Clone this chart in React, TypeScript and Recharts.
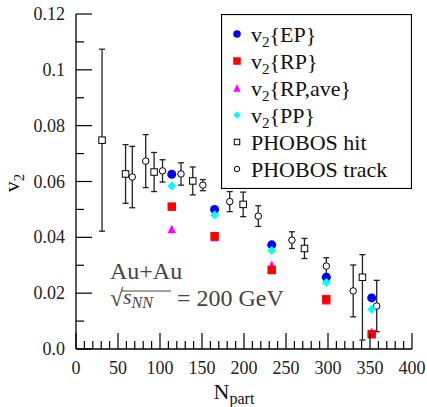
import React from "react";
import { ScatterChart, Scatter, XAxis, YAxis, ErrorBar, Legend } from "recharts";

// page has an 8px default margin; drop it so the 427x407 chart fills the window
if (typeof document !== "undefined") {
  document.body.style.margin = "0";
  document.body.style.overflow = "hidden";
}

const SERIF = '"Liberation Serif", "DejaVu Serif", serif';

// axis ticks (minor every 10 / 0.01, majors every 50 / 0.02)
const X_TICKS = [
  0, 10, 20, 30, 40, 50, 60, 70, 80, 90, 100, 110, 120, 130, 140, 150, 160, 170, 180, 190, 200,
  210, 220, 230, 240, 250, 260, 270, 280, 290, 300, 310, 320, 330, 340, 350, 360, 370, 380, 390, 400,
];
const Y_TICKS = [0, 0.01, 0.02, 0.03, 0.04, 0.05, 0.06, 0.07, 0.08, 0.09, 0.1, 0.11, 0.12];
const Y_LABELS = ["0.0", "0.02", "0.04", "0.06", "0.08", "0.1", "0.12"];

// model points, all at the same centralities
const NPART = [114, 165, 233, 298, 352];
const V2_EP = [0.0626, 0.05, 0.0373, 0.0257, 0.0183];
const V2_RP = [0.051, 0.0404, 0.0283, 0.0178, 0.0053];
const V2_RP_AVE = [0.043, 0.0401, 0.0302, 0.0175, 0.0062];
const V2_PP = [0.0584, 0.048, 0.0353, 0.0238, 0.0142];

// PHOBOS data
const HIT_NPART = [31, 59, 93, 139, 199, 272, 341];
const HIT_V2 = [0.0748, 0.0627, 0.0634, 0.0602, 0.0518, 0.036, 0.0257];
const HIT_ERR_LO = [0.0326, 0.0105, 0.007, 0.005, 0.0044, 0.0036, 0.0225];
const HIT_ERR_HI = [0.0326, 0.0105, 0.007, 0.005, 0.0044, 0.0036, 0.0081];

const TRACK_NPART = [67, 83, 103, 125, 151, 183, 217, 257, 298, 330, 358];
const TRACK_V2 = [0.0616, 0.0673, 0.0638, 0.0627, 0.0587, 0.0528, 0.0476, 0.039, 0.0297, 0.0208, 0.0154];
const TRACK_ERR = [0.011, 0.0095, 0.004, 0.004, 0.002, 0.0036, 0.0037, 0.003, 0.003, 0.0093, 0.0092];

const LEGEND_ITEMS = [
  { kind: "circle", label: "{EP}", sub: true },
  { kind: "square", label: "{RP}", sub: true },
  { kind: "triangle", label: "{RP,ave}", sub: true },
  { kind: "diamond", label: "{PP}", sub: true },
  { kind: "openSquare", label: "PHOBOS hit", sub: false },
  { kind: "openCircle", label: "PHOBOS track", sub: false },
];

const toPoints = (xs: number[], ys: number[]) => xs.map((x, i) => ({ x, y: ys[i] }));

const epData = toPoints(NPART, V2_EP);
const rpData = toPoints(NPART, V2_RP);
const rpAveData = toPoints(NPART, V2_RP_AVE);
const ppData = toPoints(NPART, V2_PP);
const hitData = HIT_NPART.map((x, i) => ({ x, y: HIT_V2[i], err: [HIT_ERR_LO[i], HIT_ERR_HI[i]] }));
const trackData = TRACK_NPART.map((x, i) => ({ x, y: TRACK_V2[i], err: TRACK_ERR[i] }));

function Marker({ kind, cx, cy, s }: { kind: string; cx: number; cy: number; s: number }) {
  const h = s / 2;
  switch (kind) {
    case "circle":
      return <circle cx={cx} cy={cy} r={h} fill="#0000ff" />;
    case "square":
      return <rect x={cx - h} y={cy - h} width={s} height={s} fill="#ff0000" />;
    case "triangle":
      return <polygon points={`${cx},${cy - h} ${cx + h},${cy + h} ${cx - h},${cy + h}`} fill="#ff00ff" />;
    case "diamond":
      return <polygon points={`${cx},${cy - h} ${cx + h},${cy} ${cx},${cy + h} ${cx - h},${cy}`} fill="#00ffff" />;
    case "openSquare":
      return <rect x={cx - h} y={cy - h} width={s} height={s} fill="#fff" stroke="#000" strokeWidth={1} />;
    default:
      return <circle cx={cx} cy={cy} r={h} fill="#fff" stroke="#000" strokeWidth={1} />;
  }
}

const shape = (kind: string, s: number) => (p: any) => <Marker kind={kind} cx={p.cx} cy={p.cy} s={s} />;

const BottomTick = (p: any) => {
  const v = p.payload.value;
  const major = v % 50 === 0;
  return (
    <g>
      <line x1={p.x} x2={p.x} y1={p.y} y2={p.y - (major ? 16 : 8)} stroke="#000" strokeWidth={1.2} />
      {major && (
        <text x={p.x} y={p.y + 25} textAnchor="middle" fontFamily={SERIF} fontSize={18} fill="#222">
          {v}
        </text>
      )}
    </g>
  );
};

const TopTick = (p: any) => {
  const major = p.payload.value % 50 === 0;
  return <line x1={p.x} x2={p.x} y1={p.y} y2={p.y + (major ? 16 : 8)} stroke="#000" strokeWidth={1.2} />;
};

const LeftTick = (p: any) => {
  const k = Math.round(p.payload.value * 100);
  const major = k % 2 === 0;
  return (
    <g>
      <line x1={p.x} x2={p.x + (major ? 16 : 8)} y1={p.y} y2={p.y} stroke="#000" strokeWidth={1.2} />
      {major && (
        <text x={p.x - 11} y={p.y + 6} textAnchor="end" fontFamily={SERIF} fontSize={18} fill="#222">
          {Y_LABELS[k / 2]}
        </text>
      )}
    </g>
  );
};

const RightTick = (p: any) => (
  <line x1={p.x} x2={p.x - 8} y1={p.y} y2={p.y} stroke="#000" strokeWidth={1.2} />
);

const LegendBox = () => (
  <svg width={191} height={175} style={{ display: "block" }}>
    <rect x={0.5} y={0.5} width={190} height={174} fill="#fff" stroke="#000" strokeWidth={1.2} />
    {LEGEND_ITEMS.map((item, i) => {
      const cy = 20 + i * 27;
      const small = item.kind === "openSquare" || item.kind === "openCircle";
      return (
        <g key={item.kind}>
          <Marker kind={item.kind} cx={16} cy={cy} s={small ? 5.5 : 7.5} />
          <text x={30} y={cy + 7.5} fontFamily={SERIF} fontSize={22} fill="#111">
            {item.sub ? (
              <>
                v<tspan fontSize={15} dy={5}>2</tspan>
                <tspan dy={-5}>{item.label}</tspan>
              </>
            ) : (
              item.label
            )}
          </text>
        </g>
      );
    })}
  </svg>
);

const XTitle = (p: any) => {
  const { x, y, width } = p.viewBox;
  return (
    <text x={x + width / 2 - 10} y={y + 50} textAnchor="middle" fontFamily={SERIF} fontSize={22} fill="#111">
      N<tspan fontSize={16} dy={5}>part</tspan>
    </text>
  );
};

const YTitle = () => (
  <text x={0} y={0} transform="translate(19,183) rotate(-90)" textAnchor="middle" fontFamily={SERIF} fontSize={22} fill="#111">
    v<tspan fontSize={15} dy={5}>2</tspan>
  </text>
);

export default function App() {
  return (
    <div style={{ position: "relative", width: 427, height: 407 }}>
      <ScatterChart width={427} height={407} margin={{ top: 14, right: 15, bottom: 8, left: 16 }}>
        <XAxis
          xAxisId="b"
          dataKey="x"
          type="number"
          domain={[0, 400]}
          ticks={X_TICKS}
          interval={0}
          height={50}
          tickSize={0}
          tickMargin={0}
          tick={BottomTick}
          axisLine={{ stroke: "#000", strokeWidth: 1.3 }}
          label={{ content: XTitle }}
        />
        <XAxis
          xAxisId="t"
          orientation="top"
          dataKey="x"
          type="number"
          domain={[0, 400]}
          ticks={X_TICKS}
          interval={0}
          height={0}
          tickSize={0}
          tickMargin={0}
          tick={TopTick}
          axisLine={{ stroke: "#000", strokeWidth: 1.3 }}
        />
        <YAxis
          yAxisId="l"
          dataKey="y"
          type="number"
          domain={[0, 0.12]}
          ticks={Y_TICKS}
          interval={0}
          width={60}
          tickSize={0}
          tickMargin={0}
          tick={LeftTick}
          axisLine={{ stroke: "#000", strokeWidth: 1.3 }}
          label={{ content: YTitle }}
        />
        <YAxis
          yAxisId="r"
          orientation="right"
          dataKey="y"
          type="number"
          domain={[0, 0.12]}
          ticks={Y_TICKS}
          interval={0}
          width={0}
          tickSize={0}
          tickMargin={0}
          tick={RightTick}
          axisLine={{ stroke: "#000", strokeWidth: 1.3 }}
        />

        <Scatter xAxisId="b" yAxisId="l" data={hitData} shape={shape("openSquare", 6.5)} isAnimationActive={false}>
          <ErrorBar dataKey="err" direction="y" width={3} stroke="#222" strokeWidth={1.3} isAnimationActive={false} />
        </Scatter>
        <Scatter xAxisId="b" yAxisId="l" data={trackData} shape={shape("openCircle", 6.5)} isAnimationActive={false}>
          <ErrorBar dataKey="err" direction="y" width={3} stroke="#222" strokeWidth={1.3} isAnimationActive={false} />
        </Scatter>
        <Scatter xAxisId="b" yAxisId="l" data={epData} shape={shape("circle", 9)} isAnimationActive={false} />
        <Scatter xAxisId="b" yAxisId="l" data={ppData} shape={shape("diamond", 9)} isAnimationActive={false} />
        <Scatter xAxisId="b" yAxisId="l" data={rpAveData} shape={shape("triangle", 8.5)} isAnimationActive={false} />
        <Scatter xAxisId="b" yAxisId="l" data={rpData} shape={shape("square", 8.5)} isAnimationActive={false} />

        <Legend
          layout="vertical"
          align="center"
          verticalAlign="middle"
          content={LegendBox}
          wrapperStyle={{ position: "absolute", left: 221, top: 14, width: 191, height: 175, margin: 0 }}
        />
      </ScatterChart>

      <svg width={427} height={407} style={{ position: "absolute", left: 0, top: 0, pointerEvents: "none" }}>
        <text x={110} y={279} fontFamily={SERIF} fontSize={24} fill="#444">
          Au+Au
        </text>
        <text x={110} y={306} fontFamily={SERIF} fontSize={24} fill="#444">
          √
        </text>
        <line x1={121} x2={171} y1={291} y2={291} stroke="#444" strokeWidth={1} />
        <text x={123} y={304} fontFamily={SERIF} fontSize={22} fontStyle="italic" fill="#444">
          s<tspan fontSize={16} dy={4}>NN</tspan>
        </text>
        <text x={177} y={306} fontFamily={SERIF} fontSize={24} fill="#444">
          = 200 GeV
        </text>
      </svg>
    </div>
  );
}
